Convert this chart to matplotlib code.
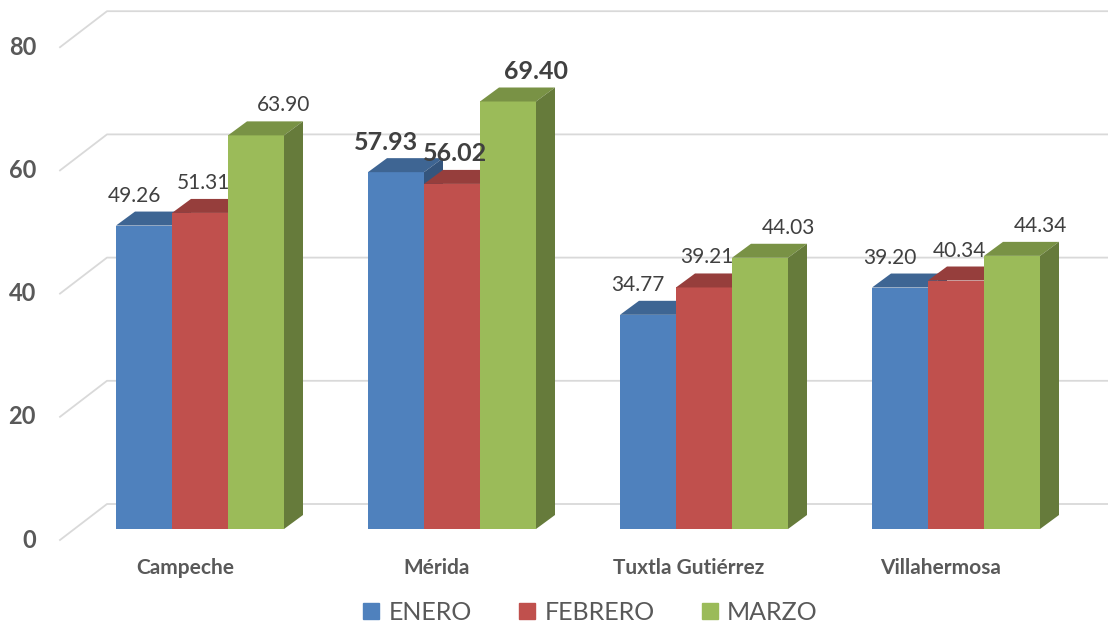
import matplotlib.pyplot as plt
import numpy as np
from matplotlib.patches import Polygon
from matplotlib.lines import Line2D
from matplotlib.colors import to_rgb

plt.rcParams['font.family'] = ['Lato', 'DejaVu Sans']

cities = ['Campeche', 'Mérida', 'Tuxtla Gutiérrez', 'Villahermosa']
months = ['ENERO', 'FEBRERO', 'MARZO']
enero = [49.26, 57.93, 34.77, 39.20]
febrero = [51.31, 56.02, 39.21, 40.34]
marzo = [63.90, 69.40, 44.03, 44.34]
y_ticks = [0, 20, 40, 60, 80]
bold_city = 'Mérida'

colors = ['#4F81BD', '#C0504D', '#9BBB59']
TEXT = '#595959'
LABEL = '#404040'
GRID = '#D9D9D9'

# pixel -> data unit conversion (1 category = 252 px, 1 value unit = 6.16 px)
PX_X = 1 / 252
PX_Y = 1 / 6.16
BAR_W = 56 * PX_X
DEPTH_X = 19 * PX_X
DEPTH_Y = 14 * PX_Y


def shade(c, f):
  return tuple(v * f for v in to_rgb(c))


fig = plt.figure(figsize=(11.08, 6.29), dpi=100)
ax = fig.add_axes([0, 0, 1, 1])
ax.set_xlim(-200 * PX_X, 908 * PX_X)
ax.set_ylim(-100 * PX_Y, 529 * PX_Y)
ax.axis('off')

# slanted gridlines (floor in perspective)
x_front = -140 * PX_X
x_back = -93 * PX_X
for v in y_ticks:
  y_front = v - 11 * PX_Y
  y_back = v + 25 * PX_Y
  ax.plot([x_front, x_back, 908 * PX_X], [y_front, y_back, y_back],
          color=GRID, lw=1.3, zorder=0)
  ax.text(-164 * PX_X, y_front, str(v), ha='right', va='center',
          fontsize=17, fontweight='bold', color=TEXT)

series = [enero, febrero, marzo]
x = np.arange(len(cities))
label_dx = [-10 * PX_X, 3 * PX_X, 28 * PX_X]
z = 2
for i in range(len(cities)):
  for j, vals in enumerate(series):
    left = x[i] - 1.5 * BAR_W + j * BAR_W
    v = vals[i]
    c = colors[j]
    ax.bar(left, v, width=BAR_W, align='edge', color=c, zorder=z)
    top = Polygon([(left, v), (left + BAR_W, v),
                   (left + BAR_W + DEPTH_X, v + DEPTH_Y),
                   (left + DEPTH_X, v + DEPTH_Y)],
                  closed=True, facecolor=shade(c, 0.78), edgecolor='none', zorder=z)
    side = Polygon([(left + BAR_W, 0), (left + BAR_W, v),
                    (left + BAR_W + DEPTH_X, v + DEPTH_Y),
                    (left + BAR_W + DEPTH_X, DEPTH_Y)],
                   closed=True, facecolor=shade(c, 0.66), edgecolor='none', zorder=z)
    ax.add_patch(top)
    ax.add_patch(side)
    z += 1
    is_bold = cities[i] == bold_city
    ax.text(left + BAR_W / 2 + label_dx[j], v + 30 * PX_Y, f'{v:.2f}',
            ha='center', va='center', color=LABEL,
            fontsize=18 if is_bold else 15,
            fontweight='bold' if is_bold else 'normal', zorder=50)
  ax.text(x[i] - 15 * PX_X, -39 * PX_Y, cities[i], ha='center', va='center',
          fontsize=15, fontweight='bold', color=TEXT)

handles = [Line2D([], [], marker='s', linestyle='none', markersize=12,
                  markerfacecolor=c, markeredgecolor=c) for c in colors]
fig.legend(handles, months, loc='center', bbox_to_anchor=(0.531, 0.026),
           ncol=3, frameon=False, fontsize=18, labelcolor=TEXT,
           handletextpad=0.2, columnspacing=1.7, handlelength=1.0,
           borderpad=0.1)

fig.savefig('out.png', dpi=100)
